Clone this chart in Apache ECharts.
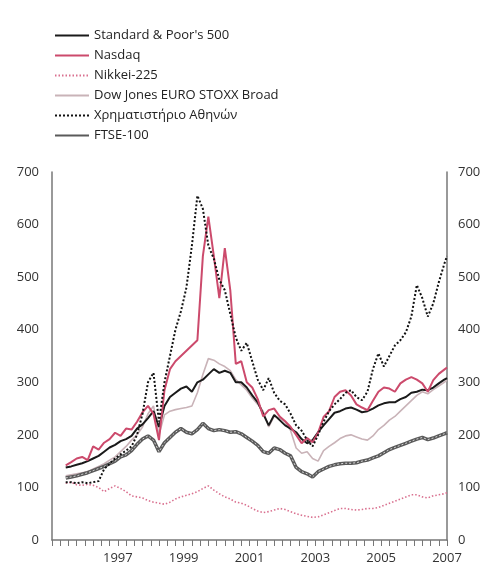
<!DOCTYPE html>
<html>
<head>
<meta charset="utf-8">
<script src="https://cdn.jsdelivr.net/npm/echarts@6/dist/echarts.min.js"></script>
<style>
  html, body { margin: 0; padding: 0; background: #fff; }
  #chart { width: 493px; height: 579px; }
</style>
</head>
<body>
<div id="chart"></div>
<script>
// dates every two months, Jun 1995 - Jan 2007
var dates = [
    '1995-06', '1995-08', '1995-10', '1995-12',
    '1996-02', '1996-04', '1996-06', '1996-08', '1996-10', '1996-12',
    '1997-02', '1997-04', '1997-06', '1997-08', '1997-10', '1997-12',
    '1998-02', '1998-04', '1998-06', '1998-08', '1998-10', '1998-12',
    '1999-02', '1999-04', '1999-06', '1999-08', '1999-10', '1999-12',
    '2000-02', '2000-04', '2000-06', '2000-08', '2000-10', '2000-12',
    '2001-02', '2001-04', '2001-06', '2001-08', '2001-10', '2001-12',
    '2002-02', '2002-04', '2002-06', '2002-08', '2002-10', '2002-12',
    '2003-02', '2003-04', '2003-06', '2003-08', '2003-10', '2003-12',
    '2004-02', '2004-04', '2004-06', '2004-08', '2004-10', '2004-12',
    '2005-02', '2005-04', '2005-06', '2005-08', '2005-10', '2005-12',
    '2006-02', '2006-04', '2006-06', '2006-08', '2006-10', '2006-12',
    '2007-01'
];

var sp500 = [138, 140, 143, 146,
    150, 155, 160, 168, 176, 181,
    188, 192, 198, 212, 220, 232,
    245, 215, 255, 272, 280, 288,
    292, 282, 300, 305, 315, 325,
    318, 322, 318, 300, 300, 290,
    275, 262, 240, 218, 238, 228,
    218, 212, 205, 192, 184, 190,
    205, 218, 230, 242, 245, 250,
    252, 248, 243, 245, 250, 256,
    260, 262, 262, 268, 272, 280,
    282, 286, 285, 290, 298, 305,
    308];

var nasdaq = [142, 148, 155, 158,
    152, 178, 172, 185, 192, 204,
    198, 212, 210, 225, 243, 255,
    240, 190, 285, 325, 340, 350,
    360, 370, 380, 540, 615, 540,
    460, 555, 475, 335, 340, 300,
    290, 268, 235, 247, 250, 235,
    226, 215, 200, 184, 194, 186,
    204, 234, 245, 272, 282, 285,
    275, 258, 252, 247, 265, 282,
    290, 288, 282, 298, 305, 310,
    305, 298, 282, 304, 316, 324,
    328];

var nikkei = [108, 110, 105, 104,
    106, 104, 100, 92, 98, 103,
    98, 92, 84, 82, 80, 75,
    72, 70, 68, 72, 78, 82,
    85, 88, 92, 98, 103, 95,
    88, 82, 78, 72, 70, 66,
    60, 55, 52, 54, 57, 60,
    58, 54, 50, 47, 45, 43,
    44, 48, 52, 56, 60, 60,
    58, 57, 58, 60, 60, 62,
    66, 70, 74, 78, 82, 86,
    86, 82, 80, 84, 86, 88,
    90];

var euroStoxx = [122, 124, 126, 128,
    130, 135, 140, 145, 152, 158,
    168, 178, 190, 200, 215, 240,
    255, 200, 238, 245, 248, 250,
    252, 255, 280, 315, 345, 342,
    335, 330, 322, 305, 295, 285,
    270, 258, 245, 215, 235, 232,
    225, 208, 175, 165, 168, 155,
    150, 170, 178, 185, 193, 198,
    200, 196, 192, 190, 198, 210,
    218, 228, 235, 245, 255, 265,
    275, 282, 278, 286, 293, 300,
    304];

var athens = [110, 110, 108, 110,
    108, 110, 112, 135, 145, 155,
    163, 170, 178, 200, 240, 300,
    318, 225, 300, 350, 400, 435,
    480, 560, 655, 630, 560, 535,
    495, 475, 430, 385, 360, 375,
    340, 305, 285, 308, 280, 265,
    258, 240, 218, 208, 190, 178,
    200, 225, 245, 258, 268, 280,
    285, 272, 266, 282, 325, 355,
    330, 350, 370, 380, 395, 425,
    485, 460, 425, 450, 490, 525,
    540];

var ftse = [118, 120, 122, 125,
    128, 132, 136, 140, 145, 150,
    158, 162, 170, 182, 192, 198,
    190, 168, 185, 195, 205, 212,
    205, 202, 210, 222, 212, 208,
    210, 208, 205, 206, 202, 195,
    188, 180, 168, 165, 175, 172,
    165, 160, 138, 130, 126, 120,
    130, 135, 140, 143, 145, 146,
    146, 147, 150, 152, 156, 160,
    166, 172, 176, 180, 184, 188,
    192, 195, 191, 194, 198, 202,
    204];

var seriesNames = ['Standard & Poor\'s 500', 'Nasdaq', 'Nikkei-225',
    'Dow Jones EURO STOXX Broad', 'Χρηματιστήριο Αθηνών', 'FTSE-100'];

// turn '1997-04' into a decimal year for the value axis
function toYear(d) {
    var p = d.split('-');
    return parseInt(p[0], 10) + (parseInt(p[1], 10) - 1) / 12;
}

function pairs(values) {
    var out = [];
    for (var i = 0; i < dates.length; i++) {
        out.push([toYear(dates[i]), values[i]]);
    }
    return out;
}

var myChart = echarts.init(document.getElementById('chart'));

var labelFont = 'Open Sans';

var options = {
    backgroundColor: '#fff',
    animation: false,
    legend: {
        orient: 'vertical',
        left: 49,
        top: 24,
        itemWidth: 34,
        itemHeight: 14,
        itemGap: 7,
        //只要线，不要圆点
        itemStyle: { opacity: 0 },
        textStyle: {
            fontFamily: labelFont,
            fontSize: 13,
            color: '#222'
        },
        data: seriesNames
    },
    grid: {
        left: 52,
        right: 46,
        top: 172,
        bottom: 39
    },
    xAxis: {
        type: 'value',
        min: 1995,
        max: 2007,
        interval: 1,
        axisLine: { lineStyle: { color: '#777', width: 1.5 } },
        axisTick: { show: true, inside: false, length: 6, lineStyle: { color: '#777' } },
        minorTick: { show: true, splitNumber: 4, length: 6, lineStyle: { color: '#777' } },
        splitLine: { show: false },
        axisLabel: {
            margin: 12,
            fontFamily: labelFont,
            fontSize: 13,
            color: '#333',
            formatter: function (v) {
                return (v > 1995 && v % 2 === 1) ? String(v) : '';
            }
        }
    },
    yAxis: [{
        type: 'value',
        min: 0,
        max: 700,
        interval: 100,
        position: 'left',
        axisLine: { show: true, lineStyle: { color: '#777', width: 1.5 } },
        axisTick: { show: false },
        splitLine: { show: false },
        axisLabel: { margin: 13, fontFamily: labelFont, fontSize: 13, color: '#333' }
    }, {
        type: 'value',
        min: 0,
        max: 700,
        interval: 100,
        position: 'right',
        axisLine: { show: true, lineStyle: { color: '#777', width: 1.5 } },
        axisTick: { show: false },
        splitLine: { show: false },
        axisLabel: { margin: 11, fontFamily: labelFont, fontSize: 13, color: '#333' }
    }],
    series: [{
        name: seriesNames[3],
        type: 'line',
        symbol: 'none',
        data: pairs(euroStoxx),
        lineStyle: { color: '#c9b3b8', width: 1.6 },
        itemStyle: { color: '#c9b3b8' },
        z: 2
    }, {
        name: seriesNames[5],
        type: 'line',
        symbol: 'none',
        data: pairs(ftse),
        lineStyle: { color: '#5a5a5a', width: 3.5 },
        itemStyle: { color: '#5a5a5a' },
        z: 3
    }, {
        //白色虚线叠在FTSE上面，画出双线的效果
        name: 'ftse-inner',
        type: 'line',
        symbol: 'none',
        data: pairs(ftse),
        lineStyle: { color: '#d8d8d8', width: 1, type: [2, 2] },
        silent: true,
        z: 4
    }, {
        name: seriesNames[2],
        type: 'line',
        symbol: 'none',
        data: pairs(nikkei),
        lineStyle: { color: '#d9708f', width: 1.6, type: [1.5, 2] },
        itemStyle: { color: '#d9708f' },
        z: 3
    }, {
        name: seriesNames[0],
        type: 'line',
        symbol: 'none',
        data: pairs(sp500),
        lineStyle: { color: '#1a1a1a', width: 2 },
        itemStyle: { color: '#1a1a1a' },
        z: 5
    }, {
        name: seriesNames[1],
        type: 'line',
        symbol: 'none',
        data: pairs(nasdaq),
        lineStyle: { color: '#cc4a6c', width: 2 },
        itemStyle: { color: '#cc4a6c' },
        z: 6
    }, {
        name: seriesNames[4],
        type: 'line',
        symbol: 'none',
        data: pairs(athens),
        lineStyle: { color: '#111', width: 2, type: [2, 2] },
        itemStyle: { color: '#111' },
        z: 7
    }]
};

myChart.setOption(options, true);
</script>
</body>
</html>
